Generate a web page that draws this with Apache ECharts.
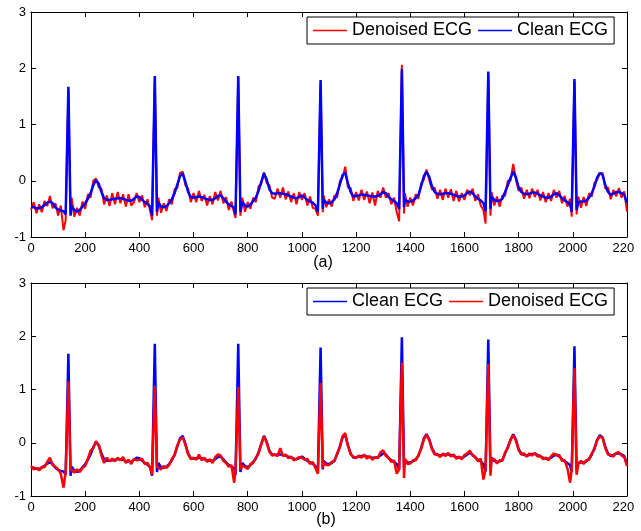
<!DOCTYPE html>
<html>
<head>
<meta charset="utf-8">
<script src="https://cdn.jsdelivr.net/npm/echarts@6/dist/echarts.min.js"></script>
<style>
  html, body { margin: 0; padding: 0; background: #fff; overflow: hidden; }
  #frame { width: 634px; height: 531px; overflow: hidden; }
  #chart { width: 660px; height: 531px; }
</style>
</head>
<body>
<div id="frame"><div id="chart"></div></div>
<script>
// Sample index (x) of every stored point; each QRS complex is stored as Q, R, S.
const sampleIdx = [
  0, 10, 20, 30, 40, 50, 60, 70, 80, 90,
  100, 110, 120, 128, 138, 146, 150, 160, 170, 180, 190,
  200, 210, 220, 230, 240, 250, 260, 270, 280, 290,
  300, 310, 320, 330, 340, 350, 360, 370, 380, 390,
  400, 410, 420, 430, 440, 447, 457, 465, 470, 480, 490,
  500, 510, 520, 530, 540, 550, 560, 570, 580, 590,
  600, 610, 620, 630, 640, 650, 660, 670, 680, 690,
  700, 710, 720, 730, 740, 750, 755, 765, 773, 780, 790,
  800, 810, 820, 830, 840, 850, 860, 870, 880, 890,
  900, 910, 920, 930, 940, 950, 960, 970, 980, 990,
  1000, 1010, 1020, 1030, 1040, 1050, 1059, 1069, 1077, 1080, 1090,
  1100, 1110, 1120, 1130, 1140, 1150, 1160, 1170, 1180, 1190,
  1200, 1210, 1220, 1230, 1240, 1250, 1260, 1270, 1280, 1290,
  1300, 1310, 1320, 1330, 1340, 1350, 1359, 1369, 1377, 1380, 1390,
  1400, 1410, 1420, 1430, 1440, 1450, 1460, 1470, 1480, 1490,
  1500, 1510, 1520, 1530, 1540, 1550, 1560, 1570, 1580, 1590,
  1600, 1610, 1620, 1630, 1640, 1650, 1660, 1670, 1678, 1688, 1696,
  1700, 1710, 1720, 1730, 1740, 1750, 1760, 1770, 1780, 1790,
  1800, 1810, 1820, 1830, 1840, 1850, 1860, 1870, 1880, 1890,
  1900, 1910, 1920, 1930, 1940, 1950, 1960, 1970, 1980, 1990, 1996,
  2006, 2014, 2020, 2030, 2040, 2050, 2060, 2070, 2080, 2090,
  2100, 2110, 2120, 2130, 2140, 2150, 2160, 2170, 2180, 2190,
  2200
];

// Reference (clean) ECG, mV
const cleanEcg = [
  -0.46, -0.47, -0.49, -0.49, -0.47, -0.43, -0.39, -0.37, -0.40, -0.47,
  -0.51, -0.53, -0.54, -0.60, 1.67, -0.62, -0.45, -0.52, -0.55, -0.52, -0.46,
  -0.40, -0.32, -0.22, -0.08, 0.01, -0.05, -0.20, -0.31, -0.34, -0.34,
  -0.33, -0.32, -0.31, -0.31, -0.32, -0.34, -0.35, -0.36, -0.32, -0.28,
  -0.29, -0.34, -0.38, -0.41, -0.46, -0.62, 1.86, -0.55, -0.38, -0.46, -0.47,
  -0.45, -0.40, -0.33, -0.22, -0.07, 0.08, 0.13, -0.02, -0.20, -0.29,
  -0.30, -0.29, -0.28, -0.29, -0.31, -0.33, -0.34, -0.34, -0.31, -0.27,
  -0.26, -0.31, -0.37, -0.42, -0.45, -0.48, -0.60, 1.86, -0.55, -0.38, -0.44,
  -0.46, -0.42, -0.36, -0.30, -0.18, -0.02, 0.13, 0.02, -0.15, -0.22,
  -0.23, -0.22, -0.22, -0.23, -0.24, -0.26, -0.28, -0.30, -0.31, -0.29,
  -0.26, -0.30, -0.34, -0.37, -0.39, -0.44, -0.55, 1.79, -0.50, -0.34, -0.39,
  -0.40, -0.38, -0.33, -0.22, -0.07, 0.10, 0.14, -0.05, -0.20, -0.28,
  -0.27, -0.26, -0.25, -0.25, -0.26, -0.27, -0.28, -0.28, -0.27, -0.24,
  -0.20, -0.22, -0.29, -0.33, -0.36, -0.40, -0.50, 1.98, -0.47, -0.32, -0.37,
  -0.37, -0.35, -0.31, -0.25, -0.10, 0.08, 0.16, 0.07, -0.10, -0.20,
  -0.23, -0.24, -0.23, -0.22, -0.22, -0.23, -0.25, -0.27, -0.28, -0.28,
  -0.26, -0.22, -0.19, -0.22, -0.28, -0.32, -0.35, -0.40, -0.54, 1.94, -0.50,
  -0.28, -0.34, -0.36, -0.35, -0.32, -0.20, -0.08, 0.05, 0.16, 0.06,
  -0.12, -0.20, -0.23, -0.24, -0.23, -0.21, -0.21, -0.23, -0.26, -0.28,
  -0.30, -0.30, -0.28, -0.24, -0.22, -0.26, -0.31, -0.35, -0.38, -0.42, -0.55,
  1.81, -0.52, -0.38, -0.37, -0.37, -0.35, -0.30, -0.22, -0.10, 0.06,
  0.14, 0.10, -0.08, -0.20, -0.25, -0.23, -0.20, -0.20, -0.22, -0.25,
  -0.40
];

// Denoised ECG, method (a)
const denoisedA = [
  -0.52, -0.38, -0.58, -0.42, -0.56, -0.36, -0.45, -0.27, -0.49, -0.40,
  -0.62, -0.44, -0.88, -0.70, 1.60, -0.55, -0.30, -0.64, -0.48, -0.62, -0.37,
  -0.50, -0.24, -0.30, 0.00, 0.04, -0.12, -0.14, -0.42, -0.26, -0.45,
  -0.22, -0.42, -0.20, -0.40, -0.24, -0.46, -0.24, -0.44, -0.38, -0.22,
  -0.38, -0.26, -0.47, -0.33, -0.54, -0.70, 1.80, -0.62, -0.30, -0.57, -0.40,
  -0.54, -0.33, -0.42, -0.15, -0.13, 0.14, 0.16, -0.08, -0.14, -0.38,
  -0.22, -0.38, -0.18, -0.36, -0.25, -0.44, -0.27, -0.42, -0.20, -0.35,
  -0.18, -0.40, -0.29, -0.52, -0.37, -0.58, -0.66, 1.82, -0.62, -0.30, -0.55,
  -0.38, -0.50, -0.30, -0.38, -0.10, -0.06, 0.15, -0.04, -0.08, -0.30,
  -0.32, -0.14, -0.30, -0.12, -0.33, -0.19, -0.38, -0.22, -0.42, -0.20,
  -0.34, -0.22, -0.44, -0.28, -0.48, -0.50, -0.62, 1.74, -0.56, -0.26, -0.47,
  -0.33, -0.46, -0.26, -0.30, -0.01, 0.06, 0.25, -0.12, -0.13, -0.36,
  -0.20, -0.35, -0.16, -0.34, -0.19, -0.40, -0.21, -0.44, -0.18, -0.30,
  -0.12, -0.30, -0.22, -0.42, -0.30, -0.56, -0.72, 2.06, -0.58, -0.22, -0.46,
  -0.30, -0.44, -0.24, -0.32, -0.05, 0.02, 0.20, 0.02, -0.16, -0.12,
  -0.32, -0.16, -0.34, -0.14, -0.30, -0.15, -0.36, -0.18, -0.37, -0.22,
  -0.34, -0.16, -0.26, -0.14, -0.36, -0.24, -0.44, -0.52, -0.76, 1.90, -0.62,
  -0.20, -0.44, -0.28, -0.46, -0.26, -0.27, 0.00, 0.00, 0.30, 0.02,
  -0.18, -0.12, -0.32, -0.16, -0.31, -0.14, -0.29, -0.16, -0.35, -0.20,
  -0.38, -0.22, -0.36, -0.16, -0.30, -0.18, -0.40, -0.27, -0.46, -0.32, -0.64,
  1.76, -0.60, -0.28, -0.48, -0.29, -0.45, -0.22, -0.28, -0.04, 0.02,
  0.13, 0.14, -0.14, -0.12, -0.33, -0.16, -0.28, -0.13, -0.30, -0.19,
  -0.55
];

// Denoised ECG, method (b)
const denoisedB = [
  -0.44, -0.50, -0.47, -0.52, -0.45, -0.46, -0.36, -0.28, -0.42, -0.45,
  -0.50, -0.58, -0.84, -0.55, 1.15, -0.50, -0.52, -0.56, -0.50, -0.55, -0.47,
  -0.44, -0.30, -0.15, -0.10, 0.03, -0.04, -0.24, -0.38, -0.28, -0.35,
  -0.30, -0.35, -0.28, -0.33, -0.27, -0.38, -0.32, -0.40, -0.30, -0.33,
  -0.32, -0.30, -0.40, -0.38, -0.47, -0.60, 1.07, -0.45, -0.42, -0.50, -0.44,
  -0.47, -0.42, -0.30, -0.24, -0.05, 0.06, 0.10, -0.04, -0.22, -0.31,
  -0.28, -0.32, -0.22, -0.33, -0.28, -0.36, -0.31, -0.38, -0.27, -0.22,
  -0.24, -0.34, -0.38, -0.45, -0.42, -0.75, -0.52, 1.05, -0.50, -0.42, -0.46,
  -0.49, -0.40, -0.38, -0.28, -0.20, -0.03, 0.12, 0.00, -0.17, -0.24,
  -0.22, -0.25, -0.10, -0.25, -0.22, -0.29, -0.26, -0.33, -0.30, -0.27,
  -0.28, -0.32, -0.30, -0.40, -0.36, -0.48, -0.58, 1.12, -0.48, -0.36, -0.42,
  -0.42, -0.36, -0.35, -0.20, -0.09, 0.12, 0.18, -0.06, -0.22, -0.26,
  -0.29, -0.24, -0.28, -0.22, -0.30, -0.25, -0.32, -0.27, -0.29, -0.18,
  -0.14, -0.25, -0.28, -0.36, -0.33, -0.58, -0.50, 1.50, -0.66, -0.30, -0.40,
  -0.39, -0.33, -0.33, -0.23, -0.12, 0.06, 0.15, 0.05, -0.12, -0.22,
  -0.21, -0.27, -0.20, -0.25, -0.19, -0.26, -0.22, -0.30, -0.26, -0.31,
  -0.23, -0.20, -0.15, -0.24, -0.26, -0.35, -0.30, -0.69, -0.50, 1.48, -0.62,
  -0.32, -0.31, -0.39, -0.33, -0.34, -0.18, -0.10, 0.06, 0.14, 0.04,
  -0.14, -0.22, -0.20, -0.26, -0.20, -0.24, -0.19, -0.26, -0.24, -0.31,
  -0.28, -0.33, -0.25, -0.20, -0.24, -0.23, -0.34, -0.33, -0.48, -0.75, -0.50,
  1.40, -0.60, -0.40, -0.34, -0.40, -0.33, -0.32, -0.20, -0.12, 0.05,
  0.12, 0.09, -0.10, -0.22, -0.23, -0.26, -0.19, -0.18, -0.24, -0.27,
  -0.44
];

const xRange = { min: 0, max: 2200, interval: 200 };
const yRange = { min: -1, max: 3, interval: 1 };
const panelCaptions = ['(a)', '(b)'];
const legendOrderA = ['Denoised ECG', 'Clean ECG'];
const legendOrderB = ['Clean ECG', 'Denoised ECG'];

const RED = '#ff0000';
const BLUE = '#0000ff';
const FONT = 'Arial, "Liberation Sans", Helvetica, sans-serif';

function pairs(values) {
  return sampleIdx.map((s, i) => [s, values[i]]);
}

function xAxisFor(gridIndex, position) {
  const labels = position === 'bottom';
  return {
    type: 'value', gridIndex, position,
    min: xRange.min, max: xRange.max, interval: xRange.interval,
    axisLine: { show: true, onZero: false, lineStyle: { color: '#000', width: 1 } },
    axisTick: { show: true, inside: true, length: 5, lineStyle: { color: '#000' } },
    axisLabel: {
      show: labels, color: '#000', fontSize: 13, fontFamily: FONT, margin: 5,
      formatter: v => String(v)
    },
    splitLine: { show: false }
  };
}

function yAxisFor(gridIndex, position) {
  const labels = position === 'left';
  return {
    type: 'value', gridIndex, position,
    min: yRange.min, max: yRange.max, interval: yRange.interval,
    axisLine: { show: true, onZero: false, lineStyle: { color: '#000', width: 1 } },
    axisTick: { show: true, inside: true, length: 5, lineStyle: { color: '#000' } },
    axisLabel: { show: labels, color: '#000', fontSize: 13, fontFamily: FONT, margin: 5 },
    splitLine: { show: false }
  };
}

function lineSeries(name, values, color, width, axisIdx) {
  return {
    name, type: 'line', data: pairs(values),
    xAxisIndex: axisIdx, yAxisIndex: axisIdx,
    symbol: 'none', showSymbol: false,
    lineStyle: { color, width }, itemStyle: { color },
    animation: false, silent: true
  };
}

function legendFor(names, top) {
  return {
    data: names, left: 307, top,
    orient: 'horizontal',
    backgroundColor: '#fff', borderColor: '#000', borderWidth: 1, borderRadius: 0,
    padding: [4, 6, 4, 6], itemGap: 6, itemWidth: 34, itemHeight: 1.5,
    icon: 'rect',
    textStyle: { color: '#000', fontSize: 18, fontFamily: FONT, lineHeight: 19 },
    selectedMode: false
  };
}

const chart = echarts.init(document.getElementById('chart'), null, { renderer: 'canvas' });

chart.setOption({
  backgroundColor: '#fff',
  animation: false,
  grid: [
    { left: 31, top: 12, width: 596, height: 225 },
    { left: 31, top: 283, width: 596, height: 213 }
  ],
  xAxis: [xAxisFor(0, 'bottom'), xAxisFor(0, 'top'), xAxisFor(1, 'bottom'), xAxisFor(1, 'top')],
  yAxis: [yAxisFor(0, 'left'), yAxisFor(0, 'right'), yAxisFor(1, 'left'), yAxisFor(1, 'right')],
  legend: [legendFor(legendOrderA, 17), legendFor(legendOrderB, 288)],
  series: [
    lineSeries('Denoised ECG', denoisedA, RED, 2, 0),
    lineSeries('Clean ECG', cleanEcg, BLUE, 2.5, 0),
    lineSeries('Clean ECG', cleanEcg, BLUE, 2.5, 2),
    lineSeries('Denoised ECG', denoisedB, RED, 2.5, 2)
  ],
  graphic: [
    { type: 'text', x: 323, y: 263, style: { text: panelCaptions[0], fill: '#000', font: '16px ' + FONT, textAlign: 'center', textVerticalAlign: 'middle' } },
    { type: 'text', x: 326, y: 520, style: { text: panelCaptions[1], fill: '#000', font: '16px ' + FONT, textAlign: 'center', textVerticalAlign: 'middle' } }
  ]
});
</script>
</body>
</html>
